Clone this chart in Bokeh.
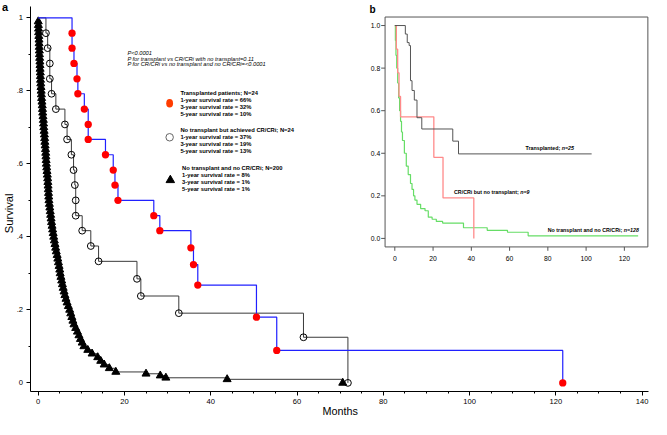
import math
from bokeh.plotting import figure
from bokeh.models import Range1d, FixedTicker, CustomJSTickFormatter
from bokeh.core.properties import value
from bokeh.embed import file_html
from bokeh.resources import INLINE

# ---------------- data: panel a (Kaplan-Meier, months vs survival) ----------------
tx_months = [7.85, 7.85, 8.3, 9.0, 9.2, 10.7, 11.6, 11.6, 15.6, 17.4, 17.8, 18.5,
             26.8, 28.2, 35.4, 36.0, 37.0, 50.6, 55.3, 121.6]
tx_surv = [0.958, 0.917, 0.875, 0.833, 0.792, 0.75, 0.708, 0.667, 0.625, 0.583, 0.542, 0.5,
           0.458, 0.417, 0.37, 0.324, 0.268, 0.18, 0.089, 0.0]

cr_months = [1.8, 2.2, 2.7, 2.7, 3.1, 4.1, 6.2, 6.7, 7.7, 8.2, 8.5, 8.7, 8.7, 10.2,
             12.2, 14.0, 22.9, 23.8, 32.6, 61.5, 71.8]
cr_surv = [0.958, 0.917, 0.875, 0.833, 0.792, 0.75, 0.708, 0.667, 0.625, 0.583, 0.542,
           0.5, 0.458, 0.417, 0.375, 0.333, 0.285, 0.238, 0.191, 0.125, 0.0]

no_months = [0.02, 0.05, 0.08, 0.1, 0.15, 0.2, 0.22, 0.25, 0.28, 0.3, 0.35, 0.4, 0.42, 0.45,
             0.5, 0.52, 0.55, 0.6, 0.65, 0.7, 0.75, 0.8, 0.88, 0.95, 1.0, 1.05, 1.12, 1.2,
             1.25, 1.3, 1.38, 1.45, 1.5, 1.55, 1.62, 1.7, 1.75, 1.8, 1.85, 1.9, 1.98, 2.05,
             2.12, 2.2, 2.25, 2.3, 2.35, 2.4, 2.45, 2.5, 2.6, 2.7, 2.8, 2.9, 3.0, 3.1, 3.22,
             3.35, 3.48, 3.6, 3.75, 3.9, 4.05, 4.2, 4.4, 4.55, 4.7, 4.85, 5.0, 5.1, 5.28,
             5.45, 5.62, 5.8, 6.0, 6.2, 6.45, 6.7, 7.0, 7.3, 7.55, 7.8, 8.05, 8.3, 8.7, 9.1,
             9.45, 9.8, 10.2, 10.6, 11.5, 12.5, 13.8, 14.5, 15.3, 16.5, 18.0, 25.0, 28.3,
             29.6, 43.8, 70.6]
no_surv = [0.99, 0.98, 0.97, 0.96, 0.95, 0.94, 0.93, 0.92, 0.91, 0.90, 0.89, 0.88, 0.87,
           0.86, 0.85, 0.84, 0.83, 0.82, 0.81, 0.80, 0.79, 0.78, 0.77, 0.76, 0.75, 0.74,
           0.73, 0.72, 0.71, 0.70, 0.69, 0.68, 0.67, 0.66, 0.65, 0.64, 0.63, 0.62, 0.61,
           0.60, 0.59, 0.58, 0.57, 0.56, 0.55, 0.54, 0.53, 0.52, 0.51, 0.50, 0.49, 0.48,
           0.47, 0.46, 0.45, 0.44, 0.43, 0.42, 0.41, 0.40, 0.39, 0.38, 0.37, 0.36, 0.35,
           0.34, 0.33, 0.32, 0.31, 0.30, 0.29, 0.28, 0.27, 0.26, 0.25, 0.24, 0.23, 0.22,
           0.21, 0.20, 0.19, 0.18, 0.17, 0.16, 0.15, 0.14, 0.13, 0.12, 0.11, 0.10, 0.09,
           0.08, 0.07, 0.06, 0.05, 0.04, 0.03, 0.025, 0.02, 0.014, 0.0098, 0.0]

a_xticks = [0, 20, 40, 60, 80, 100, 120, 140]
a_yticks = [0, 0.2, 0.4, 0.6, 0.8, 1.0]

legend_titles = ["Transplanted patients; N=24",
                 "No transplant but achieved CR/CRi; N=24",
                 "No transplant and no CR/CRi; N=200"]
legend_rates = [["1-year survival rate = 66%", "3-year survival rate = 32%", "5-year survival rate = 10%"],
                ["1-year survival rate = 37%", "3-year survival rate = 19%", "5-year survival rate = 13%"],
                ["1-year survival rate = 8%", "3-year survival rate = 1%", "5-year survival rate = 1%"]]
p_texts = ["P<0.0001",
           "P for transplant vs CR/CRi with no transplant=0.11",
           "P for CR/CRi vs no transplant and no CR/CRi=<0.0001"]

# ---------------- data: panel b ----------------
b_tx_months = [0, 5.5, 6.5, 7.5, 8.2, 9.0, 10.2, 11.6, 14.1, 30.3, 33.3, 102.9]
b_tx_surv = [1.0, 0.96, 0.92, 0.906, 0.741, 0.695, 0.65, 0.567, 0.514, 0.457, 0.397, 0.397]
b_cr_months = [0, 0.8, 1.5, 2.2, 3.0, 20.4, 25.2, 41.3]
b_cr_surv = [1.0, 0.889, 0.778, 0.667, 0.571, 0.381, 0.19, 0.0]
b_no_months = [0, 0.3, 0.6, 1.0, 1.5, 2.0, 2.5, 3.0, 3.5, 4.0, 5.0, 6.0, 7.0, 8.2, 9.0, 9.8,
               10.5, 11.6, 13.5, 15.8, 17.5, 19.5, 21.7, 25.0, 35.9, 48.3, 58.9, 69.7, 127.2]
b_no_surv = [1.0, 0.93, 0.86, 0.8, 0.73, 0.66, 0.6, 0.55, 0.5, 0.46, 0.4, 0.34, 0.3, 0.258,
             0.23, 0.2, 0.18, 0.16, 0.14, 0.13, 0.1, 0.09, 0.08, 0.072, 0.05, 0.038, 0.029,
             0.012, 0.012]
b_xticks = [0, 20, 40, 60, 80, 100, 120]
b_yticks = [0.0, 0.2, 0.4, 0.6, 0.8, 1.0]
b_ytick_labels = ["0.0", "0.2", "0.4", "0.6", "0.8", "1.0"]
b_labels = [("Transplanted;", "n=25"), ("CR/CRi but no transplant;", "n=9"),
            ("No transplant and no CR/CRi;", "n=128")]

# ---------------- layout (reference pixel calibration) ----------------
W, H = 651, 419
RW, RH = 667.0, 435.0
A_X0, A_PXM = 38.6, 4.42      # panel a: px of month 0, px per month
A_Y0, A_PXS = 397.0, 379.0    # panel a: px of S=0, px per unit
A_AXL, A_AXB = 30.3, 406.0    # panel a axis lines
B_X0, B_PXM = 404.0, 1.96     # panel b
B_Y0, B_PXS = 247.0, 221.0

def ax(rx): return (rx - A_X0) / A_PXM
def ay(ry): return (A_Y0 - ry) / A_PXS
def bx(rx): return (rx - B_X0) / B_PXM
def by(ry): return (B_Y0 - ry) / B_PXS

FONT = value("Liberation Sans")

# frame = whole canvas; axes drawn at fixed locations inside it
p = figure(width=W, height=H, output_backend="svg", toolbar_location=None,
           x_range=Range1d(ax(0), ax(RW)), y_range=Range1d(ay(RH), ay(0)),
           min_border_left=0, min_border_right=0, min_border_top=0, min_border_bottom=0,
           x_axis_location="below", y_axis_location="left")
p.extra_x_ranges = {"bx": Range1d(bx(0), bx(RW))}
p.extra_y_ranges = {"by": Range1d(by(RH), by(0))}
p.outline_line_color = None
p.grid.visible = False
p.background_fill_color = "white"
p.border_fill_color = "white"

xa = p.xaxis[0]
xa.fixed_location = ay(A_AXB)
xa.ticker = FixedTicker(ticks=a_xticks, minor_ticks=list(range(0, 141, 5)))
xa.bounds = (ax(A_AXL), 141.5)
ya = p.yaxis[0]
ya.fixed_location = ax(A_AXL)
ya.ticker = FixedTicker(ticks=a_yticks, minor_ticks=[0.1, 0.3, 0.5, 0.7, 0.9])
ya.bounds = (ay(A_AXB), 1.03)
ya.formatter = CustomJSTickFormatter(code="""
  if (tick == 0) return "0"; if (tick == 1) return "1";
  return tick.toFixed(1).replace(/^0/, "");""")
for a in (xa, ya):
    a.axis_line_color = "black"
    a.axis_line_width = 1
    a.major_tick_out = 4
    a.major_tick_in = 0
    a.minor_tick_out = 2
    a.minor_tick_in = 0
    a.major_tick_line_color = "black"
    a.minor_tick_line_color = "black"
    a.major_label_text_font = "Liberation Sans"
    a.major_label_text_font_size = "7.6px"
    a.major_label_text_color = "black"
    a.major_label_standoff = 3

# axis titles and panel letter (inside the canvas-wide frame)
p.text([ax(9)], [ay(221)], text=["Survival"], angle=math.pi / 2, text_font=FONT,
       text_font_size=value("11.2px"), text_color="black", text_align="center",
       text_baseline="middle")
p.text([ax(348)], [ay(426.5)], text=["Months"], text_font=FONT, text_font_size=value("10.8px"),
       text_color="black", text_align="center", text_baseline="middle")
p.text([ax(1.5)], [ay(7)], text=["a"], text_font=FONT, text_font_size=value("11px"),
       text_font_style="bold", text_color="black", text_align="left", text_baseline="middle")

# ---- panel a curves ----
p.step([0] + no_months, [1.0] + no_surv, mode="after", line_color="#3a3a3a", line_width=1)
p.scatter(no_months, no_surv, marker="triangle", size=8, fill_color="black", line_color="black")
p.step([0] + cr_months, [1.0] + cr_surv, mode="after", line_color="#3a3a3a", line_width=1)
p.scatter(cr_months, cr_surv, marker="circle", size=6.8, fill_color=None, line_color="black",
          line_width=1)
p.step([0] + tx_months, [1.0] + tx_surv, mode="after", line_color="#2020ff", line_width=1.2)
p.scatter(tx_months, tx_surv, marker="circle", size=7.3, fill_color="#ff0000", line_color=None)

# ---- p-values text ----
p_y = [55, 60.7, 66]
p.text([ax(130)] * 3, [ay(v) for v in p_y], text=p_texts, text_font=FONT,
       text_font_size=value("5.7px"), text_font_style="italic", text_color="black",
       text_align="left", text_baseline="middle")

# ---- legend ----
title_y = [96, 134.3, 174]
line_dy = 7.2
text_x = [184.3, 184.3, 186]
for i in range(3):
    ys = [title_y[i] + k * line_dy for k in range(4)]
    p.text([ax(text_x[i])] * 4, [ay(v) for v in ys], text=[legend_titles[i]] + legend_rates[i],
           text_font=FONT, text_font_size=value("5.8px"), text_font_style="bold",
           text_color="black", text_align="left", text_baseline="middle")
p.ellipse([ax(173.3)], [ay(106.7)], width=7 * W / RW, height=9 * H / RH, width_units="screen",
          height_units="screen", fill_color="#ff3c00", line_color=None)
p.scatter([ax(173.3)], [ay(142)], marker="circle", size=7.5, fill_color=None,
          line_color="#666666", line_width=1)
p.scatter([ax(174)], [ay(186.5)], marker="triangle", size=8.5, fill_color="black",
          line_color="black")

# ---------------- panel b (inset) ----------------
bmax = max(b_no_months + b_tx_months + b_cr_months)
bx0, bx1 = -0.04 * bmax, 1.04 * bmax
by0, by1 = -0.04, 1.04
p.quad(left=[bx0], right=[bx1], bottom=[by0], top=[by1], fill_color="white",
       line_color="#555555", line_width=1, x_range_name="bx", y_range_name="by")
p.step(b_no_months, b_no_surv, mode="after", line_color="#66dd66", line_width=1.2,
       x_range_name="bx", y_range_name="by")
p.step(b_cr_months, b_cr_surv, mode="after", line_color="#ff8a8a", line_width=1.3,
       x_range_name="bx", y_range_name="by")
p.step(b_tx_months, b_tx_surv, mode="after", line_color="#555555", line_width=1,
       x_range_name="bx", y_range_name="by")

tick_len_x = 4 / B_PXM
tick_len_y = 4 / B_PXS
p.segment(x0=b_xticks, x1=b_xticks, y0=[by0] * len(b_xticks), y1=[by0 - tick_len_y] * len(b_xticks),
          line_color="#555555", line_width=1, x_range_name="bx", y_range_name="by")
p.segment(x0=[bx0] * len(b_yticks), x1=[bx0 - tick_len_x] * len(b_yticks), y0=b_yticks, y1=b_yticks,
          line_color="#555555", line_width=1, x_range_name="bx", y_range_name="by")
p.text(b_xticks, [by(268)] * len(b_xticks), text=[str(v) for v in b_xticks], text_font=FONT,
       text_font_size=value("6.8px"), text_color="black", text_align="center",
       text_baseline="middle", x_range_name="bx", y_range_name="by")
p.text([bx(389)] * len(b_yticks), b_yticks, text=b_ytick_labels, text_font=FONT,
       text_font_size=value("6.8px"), text_color="black", text_align="right",
       text_baseline="middle", x_range_name="bx", y_range_name="by")
p.text([bx(378)], [by(9)], text=["b"], text_font=FONT, text_font_size=value("10px"),
       text_font_style="bold", text_color="black", text_align="left", text_baseline="middle",
       x_range_name="bx", y_range_name="by")

# inline curve labels (italic n)
lab_split = [575.0, 532.5, 638.5]
lab_y = [153, 199, 238.7]
for (a_txt, n_txt), sx, sy in zip(b_labels, lab_split, lab_y):
    p.text([bx(sx - 1.5)], [by(sy)], text=[a_txt], text_font=FONT, text_font_size=value("5.3px"),
           text_font_style="bold", text_color="black", text_align="right", text_baseline="middle",
           x_range_name="bx", y_range_name="by")
    p.text([bx(sx)], [by(sy)], text=[n_txt], text_font=FONT, text_font_size=value("5.3px"),
           text_font_style="bold italic", text_color="black", text_align="left",
           text_baseline="middle", x_range_name="bx", y_range_name="by")

open("out.html", "w").write(file_html(p, INLINE))
